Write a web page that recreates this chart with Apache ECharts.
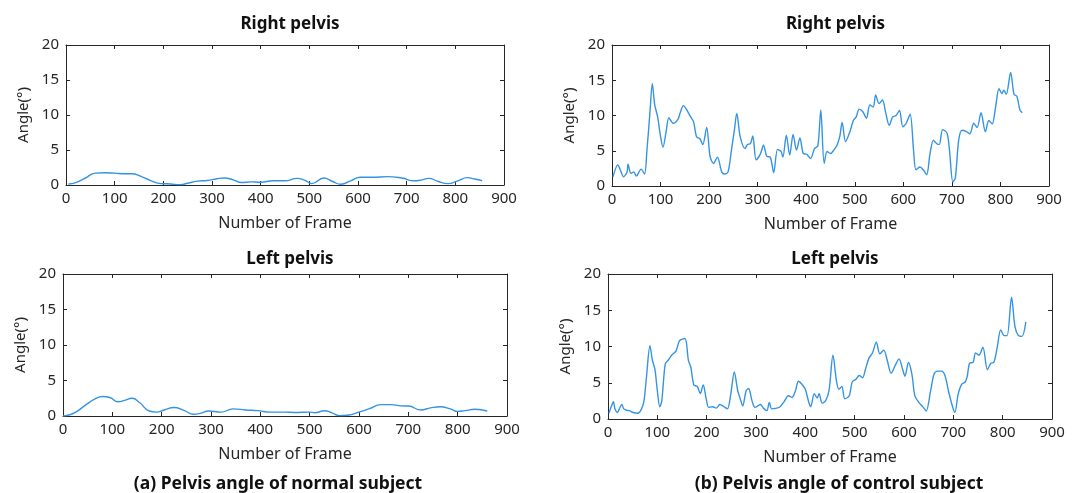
<!DOCTYPE html>
<html>
<head>
<meta charset="utf-8">
<script src="https://cdn.jsdelivr.net/npm/echarts@6/dist/echarts.min.js"></script>
<style>html,body{margin:0;padding:0;background:#fff;}#c{width:1073px;height:493px;}</style>
</head>
<body>
<div id="c"></div>
<script>
// ---- data: [frame, angle] ----
const xTicks = [0, 900, 100];           // min, max, interval
const yTicks = [0, 20, 5];
const panelTitles = ['Right pelvis', 'Right pelvis', 'Left pelvis', 'Left pelvis'];
const captions = ['(a) Pelvis angle of normal subject', '(b) Pelvis angle of control subject'];
const xName = 'Number of Frame';
const yName = 'Angle(°)';

const normalRight = [[5,0.15],[20,0.35],[40,1.0],[60,1.7],[80,1.75],[100,1.7],[120,1.6],[135,1.6],[155,1.2],[175,0.6],[195,0.2],[215,0.15],[235,0.05],[250,0.25],[270,0.55],[290,0.65],[310,0.9],[325,1.0],[345,0.7],[360,0.35],[380,0.45],[400,0.4],[425,0.6],[450,0.6],[475,0.95],[490,0.7],[505,0.2],[530,1.0],[548,0.5],[565,0.1],[585,0.6],[605,1.1],[630,1.1],[660,1.2],[690,1.0],[715,0.6],[730,0.7],[745,0.95],[765,0.5],[785,0.2],[805,0.6],[825,1.05],[840,0.85],[855,0.6]];

const normalLeft = [[0,0],[10,0.1],[25,0.5],[45,1.5],[65,2.4],[80,2.75],[95,2.6],[112,2.0],[125,2.2],[140,2.5],[155,1.9],[175,0.7],[190,0.55],[205,0.85],[225,1.2],[245,0.8],[265,0.25],[280,0.4],[295,0.7],[320,0.55],[345,1.0],[370,0.85],[395,0.75],[420,0.55],[450,0.55],[470,0.5],[500,0.55],[510,0.45],[530,0.75],[545,0.45],[560,0.05],[580,0.15],[600,0.55],[620,1.0],[645,1.6],[665,1.6],[690,1.4],[700,1.4],[725,0.85],[745,1.15],[765,1.3],[785,1.0],[800,0.65],[815,0.75],[835,0.95],[860,0.7]];

const controlRight = [[2,1.3],[12,3.0],[17,2.3],[24,1.3],[31,2.0],[33,3.1],[39,1.8],[45,2.0],[50,1.4],[60,2.4],[67,1.7],[72,5.1],[78,10.3],[83,14.5],[88,11.5],[94,9.8],[100,7.0],[105,5.5],[111,7.5],[117,9.7],[121,9.3],[126,8.9],[136,9.5],[141,10.5],[147,11.4],[154,10.8],[161,9.9],[168,9.1],[174,7.0],[181,6.7],[187,5.9],[195,8.3],[202,4.2],[209,3.2],[217,4.1],[226,2.0],[232,1.7],[239,2.0],[246,5.1],[252,7.9],[257,10.3],[264,7.0],[274,5.3],[279,5.9],[285,6.0],[290,7.1],[297,3.7],[306,4.6],[312,5.8],[319,4.2],[326,4.1],[333,1.9],[341,5.2],[348,4.9],[352,4.1],[359,7.2],[366,4.4],[373,7.3],[380,5.1],[387,6.8],[394,4.6],[401,4.5],[409,3.9],[417,5.3],[424,5.7],[430,10.8],[437,3.2],[443,4.9],[450,4.6],[457,5.1],[463,5.7],[469,7.0],[474,9.0],[481,6.3],[490,7.7],[497,9.3],[503,9.8],[509,10.9],[517,10.5],[524,9.6],[531,11.5],[538,11.2],[543,12.9],[550,11.7],[557,12.2],[564,10.3],[571,8.6],[578,9.8],[585,10.0],[592,10.7],[599,8.4],[606,8.9],[614,10.2],[621,5.1],[626,2.3],[634,2.7],[641,2.3],[648,1.6],[655,4.6],[662,6.5],[669,6.0],[674,5.9],[681,8.0],[690,7.5],[695,5.1],[702,0.6],[707,1.1],[714,6.5],[721,7.9],[730,7.7],[737,7.4],[745,8.9],[752,8.3],[760,10.4],[769,7.7],[776,9.3],[783,8.8],[790,11.2],[797,13.8],[803,13.1],[807,13.6],[812,13.0],[821,16.1],[828,13.0],[834,12.7],[840,10.8],[845,10.4]];

const controlLeft = [[2,0.8],[7,1.8],[11,2.4],[14,1.4],[19,0.9],[23,1.4],[28,2.0],[32,1.4],[38,1.2],[43,1.15],[51,0.9],[61,0.8],[68,1.4],[73,2.5],[78,5.8],[85,10.1],[90,8.1],[95,6.9],[100,3.9],[105,1.7],[109,2.5],[116,7.6],[122,8.1],[129,8.8],[138,9.4],[145,10.8],[156,11.1],[163,8.1],[168,7.1],[174,4.7],[181,4.5],[187,3.5],[193,4.7],[199,2.8],[204,1.6],[212,1.7],[219,1.5],[227,2.0],[235,1.7],[242,1.4],[249,3.5],[256,6.5],[263,3.9],[268,2.8],[273,1.8],[280,3.9],[285,4.2],[292,2.5],[298,1.6],[309,2.0],[315,1.5],[322,1.15],[327,2.3],[332,1.4],[342,1.5],[349,1.7],[357,2.4],[366,3.2],[373,3.0],[380,3.9],[386,5.2],[393,4.8],[400,4.1],[407,2.3],[411,1.7],[418,3.5],[424,2.9],[428,3.5],[434,2.2],[441,2.5],[448,3.9],[456,8.8],[463,5.3],[468,4.1],[474,4.5],[480,2.8],[489,3.2],[495,5.1],[503,5.5],[509,6.0],[516,5.7],[522,6.9],[529,8.4],[536,9.1],[544,10.6],[551,9.0],[559,9.5],[566,8.1],[574,6.3],[583,7.5],[590,8.3],[597,6.9],[602,5.9],[609,7.8],[616,6.2],[622,3.2],[630,2.3],[639,1.6],[645,1.1],[654,3.9],[661,6.2],[668,6.6],[676,6.6],[683,6.0],[690,3.9],[698,1.8],[703,0.9],[710,3.5],[717,4.8],[724,5.1],[728,5.8],[733,7.7],[740,7.8],[745,9.1],[752,8.8],[760,9.9],[769,6.8],[776,7.7],[782,7.8],[789,9.9],[796,12.3],[803,11.5],[809,11.5],[818,16.8],[825,12.7],[832,11.5],[839,11.4],[847,13.4]];

const seriesData = [normalRight, controlRight, normalLeft, controlLeft];
const smoothness = [0.5, 0.3, 0.5, 0.3];

// ---- layout ----
const grids = [
  {left: 66, top: 45, width: 438, height: 140},
  {left: 612, top: 45, width: 437, height: 141},
  {left: 63, top: 274, width: 444, height: 142},
  {left: 608, top: 274, width: 444, height: 145}
];
const titleOffsets = [34, 34, 28, 28];
const FONT = '"Noto Sans", "Open Sans", sans-serif';
const AX = '#262626';
const LINE = '#3494e3';

const xAxes = [], yAxes = [], series = [], titles = [];
grids.forEach((g, i) => {
  const common = {
    min: xTicks[0], max: xTicks[1], interval: xTicks[2],
    axisLine: {show: true, onZero: false, lineStyle: {color: AX, width: 1}},
    axisTick: {show: true, inside: true, length: 4, lineStyle: {color: AX}},
    splitLine: {show: false}
  };
  xAxes.push(Object.assign({}, common, {
    type: 'value', gridIndex: i, position: 'bottom',
    axisLabel: {show: true, color: AX, fontSize: 15, fontFamily: FONT, margin: 6},
    name: xName, nameLocation: 'middle', nameGap: 30,
    nameTextStyle: {color: AX, fontSize: 16, fontFamily: FONT}
  }));
  const ycommon = {
    min: yTicks[0], max: yTicks[1], interval: yTicks[2],
    axisLine: {show: true, onZero: false, lineStyle: {color: AX, width: 1}},
    axisTick: {show: true, inside: true, length: 4, lineStyle: {color: AX}},
    splitLine: {show: false}
  };
  yAxes.push(Object.assign({}, ycommon, {
    type: 'value', gridIndex: i, position: 'left',
    axisLabel: {show: true, color: AX, fontSize: 15, fontFamily: FONT, margin: 7},
    name: yName, nameLocation: 'middle', nameGap: 35, nameRotate: 90,
    nameTextStyle: {color: AX, fontSize: 15, fontFamily: FONT}
  }));
  series.push({
    type: 'line', xAxisIndex: i, yAxisIndex: i,
    data: seriesData[i], showSymbol: false, smooth: smoothness[i],
    lineStyle: {color: LINE, width: 1.4}, itemStyle: {color: LINE},
    silent: true, animation: false
  });
  titles.push({
    text: panelTitles[i], left: g.left + g.width / 2, top: g.top - titleOffsets[i], textAlign: 'center',
    textStyle: {fontSize: 17, fontWeight: 'bold', color: '#111', fontFamily: FONT}
  });
});
// mirrored top / right axes (ticks only)
grids.forEach((g, i) => {
  xAxes.push({
    type: 'value', gridIndex: i, position: 'top',
    min: xTicks[0], max: xTicks[1], interval: xTicks[2],
    axisLine: {show: true, onZero: false, lineStyle: {color: AX, width: 1}},
    axisTick: {show: true, inside: true, length: 4, lineStyle: {color: AX}},
    axisLabel: {show: false}, splitLine: {show: false}
  });
  yAxes.push({
    type: 'value', gridIndex: i, position: 'right',
    min: yTicks[0], max: yTicks[1], interval: yTicks[2],
    axisLine: {show: true, onZero: false, lineStyle: {color: AX, width: 1}},
    axisTick: {show: true, inside: true, length: 4, lineStyle: {color: AX}},
    axisLabel: {show: false}, splitLine: {show: false}
  });
});
titles.push({
  text: captions[0], left: 273, top: 470, textAlign: 'center',
  textStyle: {fontSize: 17.5, fontWeight: 'bold', color: '#111', fontFamily: FONT}
});
titles.push({
  text: captions[1], left: 834, top: 470, textAlign: 'center',
  textStyle: {fontSize: 17.5, fontWeight: 'bold', color: '#111', fontFamily: FONT}
});

const chart = echarts.init(document.getElementById('c'), null, {renderer: 'canvas'});
chart.setOption({
  animation: false,
  backgroundColor: '#fff',
  title: titles,
  grid: grids,
  xAxis: xAxes,
  yAxis: yAxes,
  series: series
});
</script>
</body>
</html>
